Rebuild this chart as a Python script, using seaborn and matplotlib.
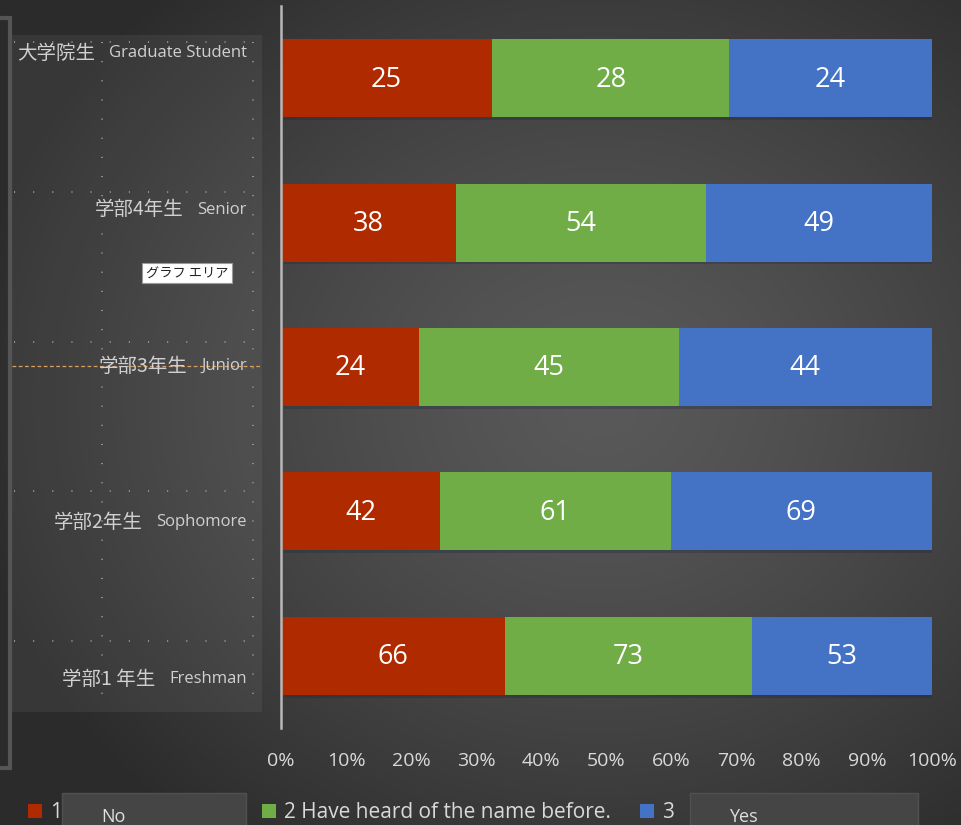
import matplotlib
matplotlib.use("Agg")
import matplotlib.pyplot as plt
import matplotlib.patheffects as pe
from matplotlib.patches import Rectangle
import numpy as np
import pandas as pd
import seaborn as sns

# %% data
grades_jp = ["大学院生", "学部4年生", "学部3年生", "学部2年生", "学部1 年生"]
grades_en = ["Graduate Student", "Senior", "Junior", "Sophomore", "Freshman"]
series = ["1", "2 Have heard of the name before.", "3"]
answer_no = [25, 38, 24, 42, 66]
answer_heard = [28, 54, 45, 61, 73]
answer_yes = [24, 49, 44, 69, 53]
colors = ["#B02A00", "#70AD47", "#4472C4"]
ticks = [0, 10, 20, 30, 40, 50, 60, 70, 80, 90, 100]

# %% shares per row (100% stacked)
df = pd.DataFrame({"grade": grades_en, "no": answer_no, "heard": answer_heard, "yes": answer_yes})
total = df[["no", "heard", "yes"]].sum(axis=1)
share = df[["no", "heard", "yes"]].div(total, axis=0) * 100
cum = share.cumsum(axis=1)
df["c_no"], df["c_heard"], df["c_yes"] = cum["no"], cum["heard"], cum["yes"]

sns.set_theme(style="white")
plt.rcParams["font.family"] = ["Open Sans", "Noto Sans CJK JP", "DejaVu Sans"]

W, H = 961, 825
fig = plt.figure(figsize=(W / 100, H / 100), dpi=100)

# dark radial background like the office theme
bg = fig.add_axes([0, 0, 1, 1], zorder=-10)
yy, xx = np.mgrid[0:H, 0:W]
r = np.sqrt(((xx - 600) / 640) ** 2 + ((yy - 400) / 560) ** 2)
val = 0.35 - 0.18 * np.clip(r, 0, 1) ** 1.3
bg.imshow(np.dstack([val, val, val]), extent=[0, W, H, 0], aspect="auto")
bg.set_xlim(0, W)
bg.set_ylim(H, 0)
bg.axis("off")

# left frame remnant and label panel
bg.add_patch(Rectangle((-20, 18), 30, 750, fill=False, ec="#555555", lw=3))
bg.add_patch(Rectangle((12, 35), 250, 677, fc="white", alpha=0.06, lw=0))
dot = (0, (0.6, 10))
for gy in [42, 192, 342, 491, 641]:
    bg.plot([14, 253], [gy, gy], color="#9a9a9a", lw=1.3, ls=dot)
for gx in [102, 253]:
    bg.plot([gx, gx], [42, 710], color="#9a9a9a", lw=1.3, ls=dot)
bg.plot([12, 262], [366, 366], color="#d9a060", lw=0.9, ls=(0, (3, 2)))

# %% main chart
ax = fig.add_axes([281 / W, 1 - 728 / H, (932 - 281) / W, (728 - 6) / H])
ax.set_facecolor("none")
shadow = [pe.SimplePatchShadow(offset=(2, -2), alpha=0.25), pe.Normal()]
for col, c in zip(["c_yes", "c_heard", "c_no"], colors[::-1]):
    sns.barplot(data=df, x=col, y="grade", orient="h", color=c, width=0.54,
                saturation=1, ax=ax, edgecolor="none")
for p in ax.containers[0]:
    p.set_path_effects(shadow)

for i in range(len(df)):
    left = 0
    for key in ["no", "heard", "yes"]:
        ax.text(left + share[key][i] / 2, i + 0.01, str(df[key][i]), ha="center", va="center",
                color="white", fontsize=19.5)
        left += share[key][i]

ax.set_xlim(0, 100)
ax.set_ylim(4.5, -0.5)
ax.set_xticks(ticks)
ax.set_xticklabels([f"{t}%" for t in ticks])
ax.tick_params(axis="x", colors="#d9d9d9", labelsize=14, length=0, pad=17)
ax.set_yticks([])
ax.set_xlabel("")
ax.set_ylabel("")
for s in ["top", "right", "bottom"]:
    ax.spines[s].set_visible(False)
ax.spines["left"].set_color("#b8b8b8")
ax.spines["left"].set_linewidth(1.8)

# category labels: japanese + english, right aligned in the panel
fig.canvas.draw()
renderer = fig.canvas.get_renderer()
for i, (jp, en) in enumerate(zip(grades_jp, grades_en)):
    y = 1 - (53 + 156.5 * i) / H
    t = fig.text(247 / W, y, en, ha="right", va="center", color="#d0d0d0",
                 fontsize=12)
    bb = t.get_window_extent(renderer)
    fig.text((bb.x0 - 14) / W, y, jp, ha="right", va="center", color="#d0d0d0",
             fontsize=14, family=["Noto Sans CJK JP", "DejaVu Sans"])

# tooltip box from the editor
tip = fig.text(187 / W, 1 - 273 / H, "グラフ エリア", ha="center", va="center", fontsize=9.5,
               color="#222222", family=["Noto Sans CJK JP", "DejaVu Sans"],
               bbox=dict(boxstyle="square,pad=0.3", fc="white", ec="#9a9a9a", lw=0.8))
tip.get_bbox_patch().set_path_effects([pe.SimplePatchShadow(offset=(2, -2), alpha=0.5), pe.Normal()])

# %% legend, one entry per series
legend_x = [28, 262, 640]
for x, name, c in zip(legend_x, series, colors):
    h = Rectangle((0, 0), 1, 1, fc=c, ec="none")
    leg = fig.legend([h], [name], loc="center left", bbox_to_anchor=(x / W, 1 - 813 / H),
                     frameon=False, fontsize=15, handlelength=0.65, handleheight=0.65,
                     handletextpad=0.4, borderpad=0, borderaxespad=0)
    for txt in leg.get_texts():
        txt.set_color("#d9d9d9")

# grey edit boxes over the legend
for x0, x1, word in [(62, 246, "No"), (690, 918, "Yes")]:
    bg.add_patch(Rectangle((x0, 793), x1 - x0, 60, fc="#454545", ec="#505050", lw=1, zorder=5))
    bg.text(x0 + 39, 817, word, ha="left", va="center", color="#e0e0e0", fontsize=13, zorder=6)

fig.savefig("out.png", dpi=100)
